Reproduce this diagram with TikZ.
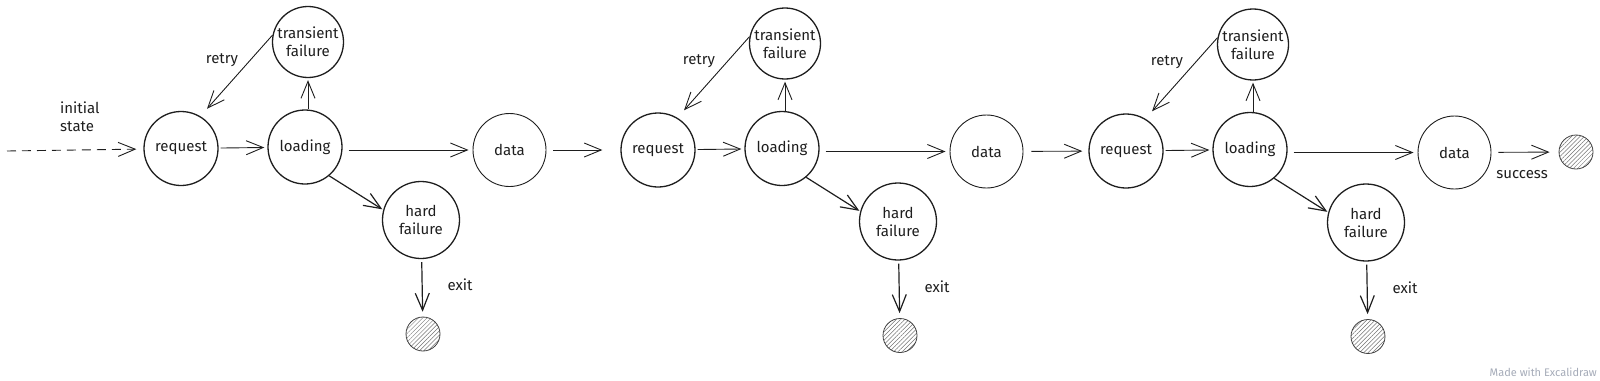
\documentclass[tikz,border=0pt]{standalone}
\usepackage{fontspec}
\setmainfont{Fira Sans}
\usetikzlibrary{arrows.meta,patterns.meta}
\definecolor{ink}{HTML}{1E1E1E}
\definecolor{wm}{HTML}{A5ABB8}
\newcommand\lbl{\fontsize{15}{18}\selectfont}
\newcommand\grp[3]{%
\begin{scope}[shift={(#2,#3)}]
\node[st,minimum size=74pt] (req#1) at (181,148.5) {request};
\node[st,minimum size=74pt] (load#1) at (305,147) {loading};
\node[st,minimum size=71pt] (trans#1) at (308,42) {transient\\failure};
\node[thinst,minimum size=73pt] (data#1) at (509.5,150) {data};
\node[st,minimum size=77pt] (hard#1) at (421,220) {hard\\failure};
\node[term] (term#1) at (423,334) {};
\node[lab] (retry#1) at (222,60) {retry};
\node[lab] (exit#1) at (460,285) {exit};
\end{scope}
\draw[conn,shorten <=2pt,shorten >=3pt] (req#1) -- (load#1);
\draw[conn,shorten >=2pt] (trans#1.south |- load#1.north) -- (trans#1.south);
\draw[conn,shorten >=10pt] (trans#1.169) -- (req#1.59);
\draw[conn,shorten <=6pt,shorten >=4pt] (load#1.east |- data#1.west) -- (data#1.west);
\draw[conn,line width=1.2pt,shorten >=1pt] (load#1.-50) -- (hard#1.165);
\draw[conn,line width=1.2pt,shorten <=3pt,shorten >=5pt] (hard#1) -- (term#1);
}
\begin{document}
\begin{tikzpicture}[x=1pt,y=-1pt,
  st/.style={circle,draw=ink,line width=1.3pt,inner sep=0pt,align=center,font=\lbl,text=ink},
  thinst/.style={st,line width=0.9pt},
  term/.style={circle,draw=ink!85,line width=0.8pt,minimum size=34pt,inner sep=0pt,
    pattern={Lines[angle=45,distance=3pt,line width=0.5pt]},pattern color=black!55},
  conn/.style={draw=ink,line width=0.9pt,-{Straight Barb[length=17pt,width=14pt]}},
  lab/.style={font=\lbl,text=ink,inner sep=0pt}]
\useasboundingbox (0,0) rectangle (1600,380);
\grp{1}{0}{0}
\grp{2}{477}{1.5}
\grp{3}{945}{2.5}
\coordinate (start) at (7,151);
\node[lab,align=left,anchor=west] (initlab) at (60,116.5) {initial\\state};
\draw[conn,dash pattern=on 9pt off 6pt,shorten >=7pt] (start) -- (req1);
\draw[conn,shorten <=7pt,shorten >=18pt] (data1) -- (req2);
\draw[conn,shorten <=8pt,shorten >=6pt] (data2) -- (req3);
\node[term] (final) at (1576,152) {};
\draw[conn,shorten <=7pt,shorten >=9pt] (data3) -- (final);
\node[lab] (success) at (1522,175) {success};
\node[font=\fontsize{11}{12}\selectfont,text=wm,anchor=east,inner sep=0pt] (wmark) at (1597,372) {Made with Excalidraw};
\end{tikzpicture}
\end{document}
